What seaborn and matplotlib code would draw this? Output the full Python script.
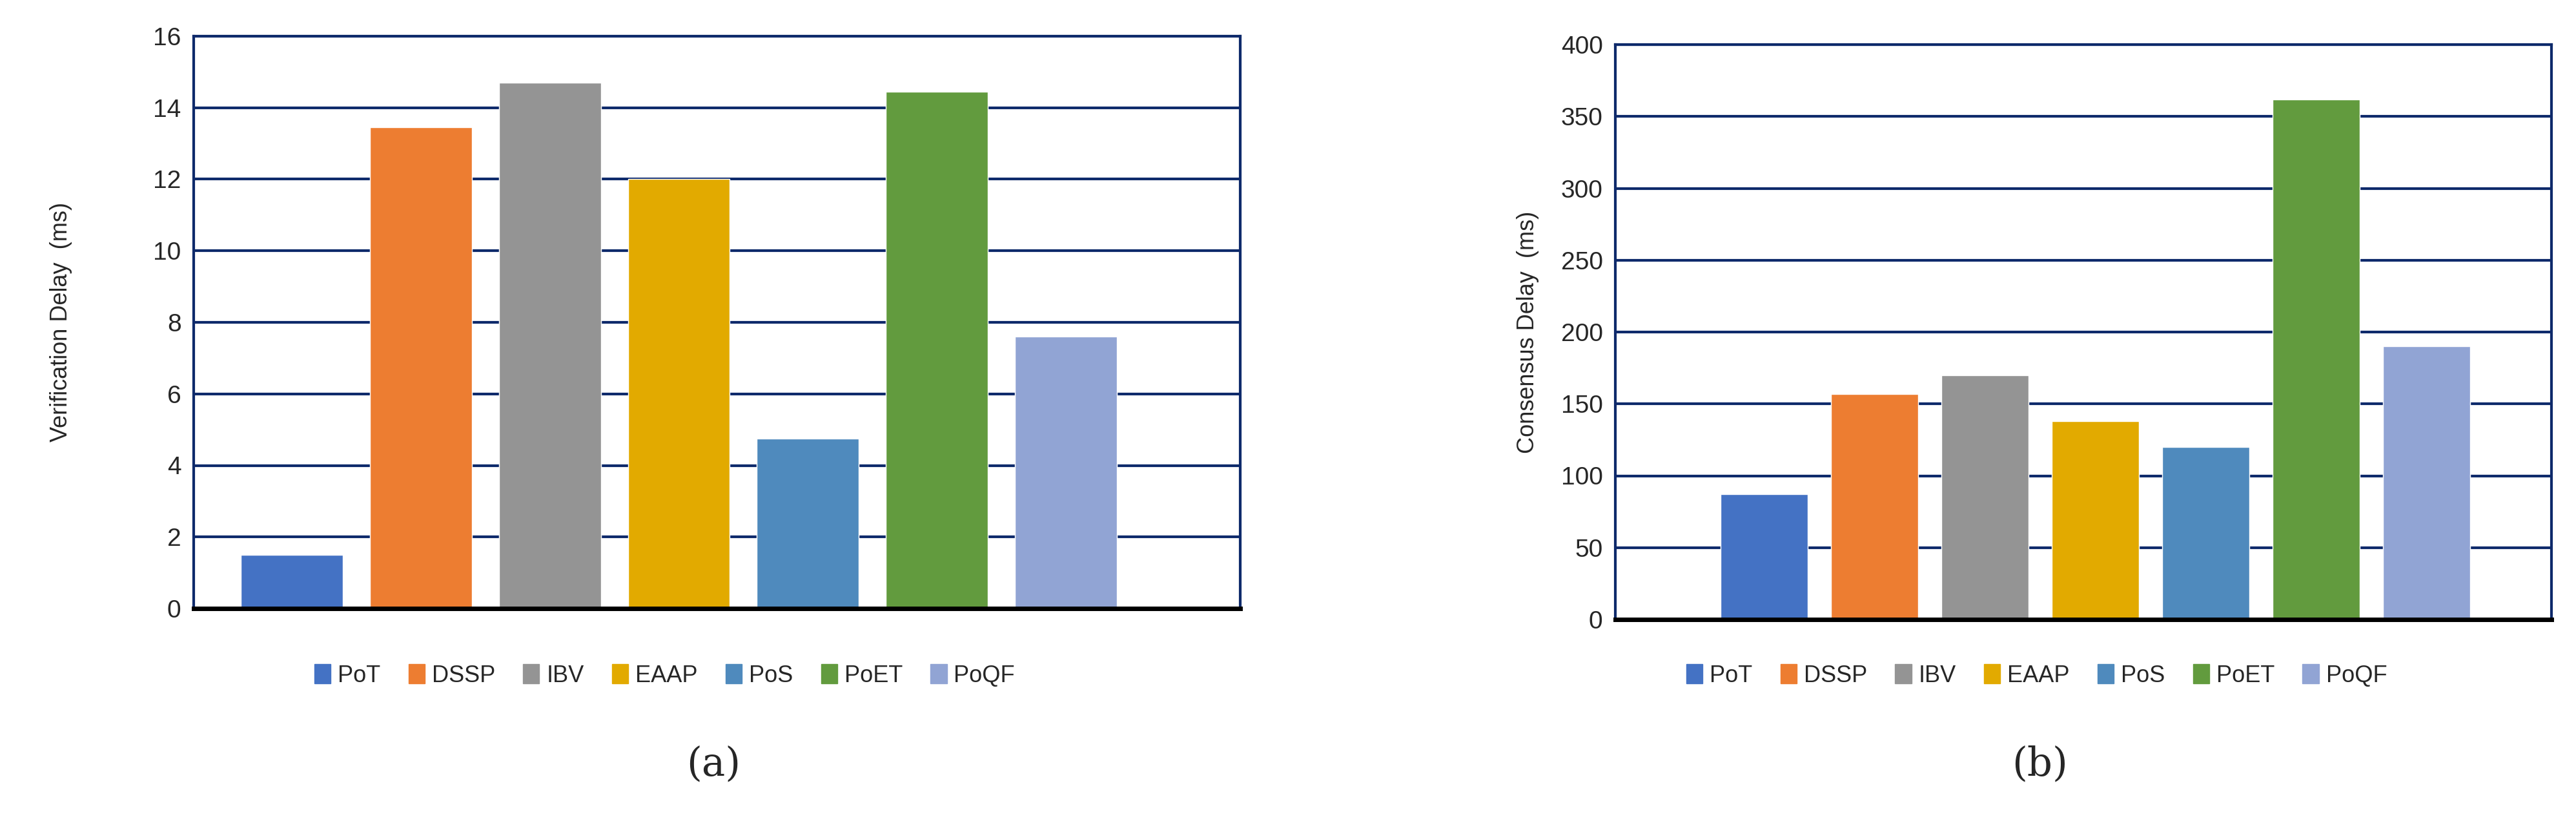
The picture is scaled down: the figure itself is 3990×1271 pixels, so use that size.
import matplotlib
matplotlib.use("Agg")
import matplotlib.pyplot as plt
import matplotlib.patches as mpatches
import seaborn as sns

protocols = ["PoT", "DSSP", "IBV", "EAAP", "PoS", "PoET", "PoQF"]
verification_delay = [1.5, 13.45, 14.7, 12.0, 4.75, 14.45, 7.6]
consensus_delay = [87, 157, 170, 138, 120, 362, 190]
colors = ["#4472C4", "#ED7D31", "#949494", "#E2AA00", "#4F8ABD", "#629B3E", "#91A4D4"]

sns.set_style("white")
plt.rcParams["font.family"] = ["Liberation Sans", "DejaVu Sans"]

fig = plt.figure(figsize=(39.9, 12.71), dpi=100)
W, H = 3990, 1271
navy = "#0E2A6B"

def panel(rect, values, ymax, step, ylabel, xlim, label_x, tag, tag_x):
    ax = fig.add_axes(rect)
    sns.barplot(x=protocols, y=values, hue=protocols, palette=colors,
                ax=ax, width=0.79, legend=False, saturation=1)
    ax.set_xlim(*xlim)
    ax.set_ylim(0, ymax)
    ax.set_yticks(range(0, ymax + 1, step))
    ax.set_axisbelow(True)
    ax.yaxis.grid(True, color=navy, linewidth=3)
    ax.set_xticks([])
    ax.set_xlabel("")
    ax.set_ylabel("")
    for s in ["left", "top", "right"]:
        ax.spines[s].set_color(navy)
        ax.spines[s].set_linewidth(3)
    ax.spines["bottom"].set_color("black")
    ax.spines["bottom"].set_linewidth(5)
    ax.tick_params(axis="y", labelsize=28, length=0, pad=14)
    fig.text(label_x, rect[1] + rect[3] / 2, ylabel, rotation=90,
             ha="center", va="center", fontsize=26)
    handles = [mpatches.Patch(color=c, label=p) for c, p in zip(colors, protocols)]
    fig.legend(handles=handles, loc="center",
               bbox_to_anchor=(rect[0] + rect[2] * 0.45, 1 - 1046 / H),
               ncol=7, frameon=False, fontsize=26, handlelength=0.7,
               handleheight=0.9, handletextpad=0.3, columnspacing=1.2)
    fig.text(tag_x, 1 - 1183 / H, tag, ha="center", va="center",
             fontsize=44, family="DejaVu Serif")

panel([300 / W, 1 - 942 / H, 1621 / W, 886 / H], verification_delay, 16, 2,
      "Verification Delay  (ms)", (-0.76, 7.35), 95 / W, "(a)", 1105 / W)
panel([2502 / W, 1 - 959 / H, 1450 / W, 890 / H], consensus_delay, 400, 50,
      "Consensus Delay  (ms)", (-1.35, 7.13), 2367 / W, "(b)", 3160 / W)

fig.savefig("out.png", dpi=100)
